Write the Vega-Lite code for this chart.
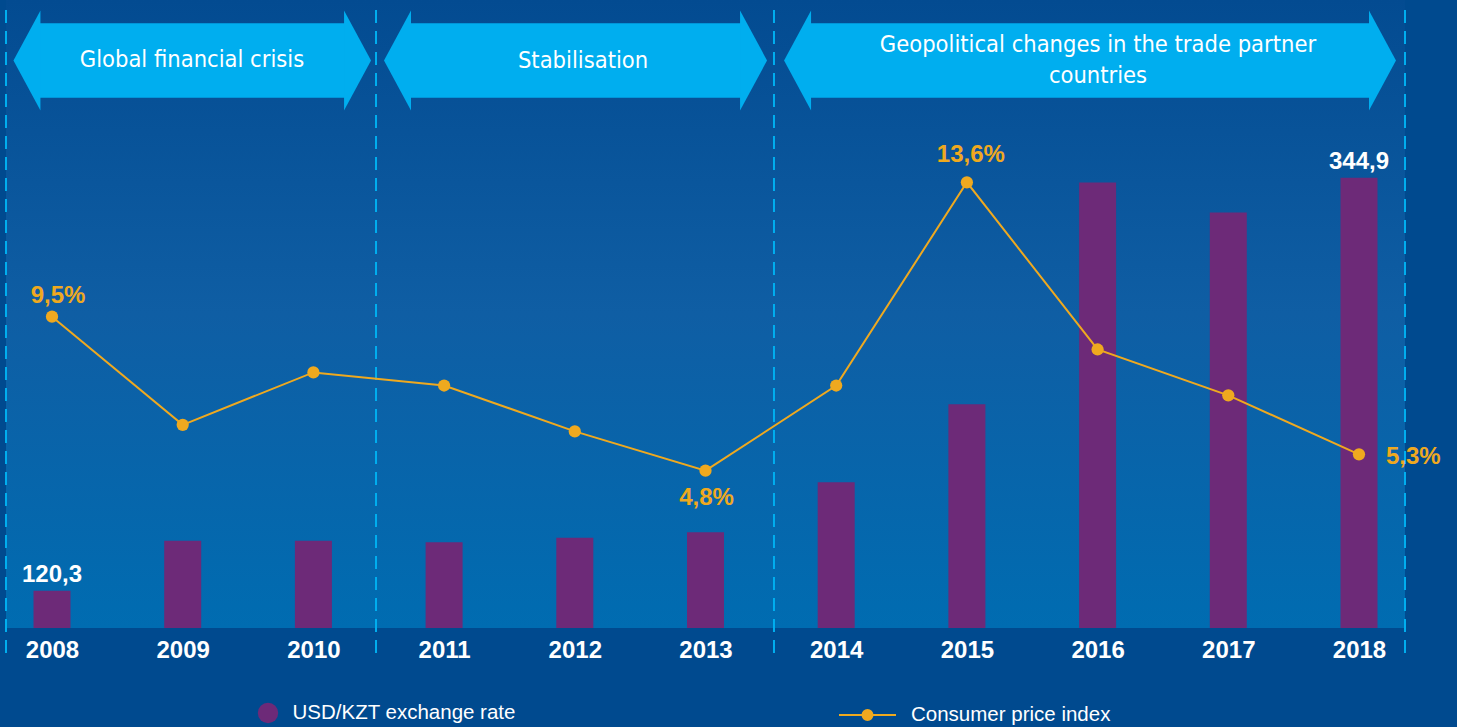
{
  "$schema": "https://vega.github.io/schema/vega-lite/v6.json",
  "width": 1399,
  "height": 628,
  "autosize": {"type": "none"},
  "padding": {"left": 6, "top": 0, "right": 52, "bottom": 99},
  "background": "#004a8f",
  "datasets": {
    "main": [
      {"year": 2008, "rate": 120.3, "cpi": 9.5},
      {"year": 2009, "rate": 147.5, "cpi": 6.2},
      {"year": 2010, "rate": 147.4, "cpi": 7.8},
      {"year": 2011, "rate": 146.6, "cpi": 7.4},
      {"year": 2012, "rate": 149.1, "cpi": 6.0},
      {"year": 2013, "rate": 152.1, "cpi": 4.8},
      {"year": 2014, "rate": 179.2, "cpi": 7.4},
      {"year": 2015, "rate": 221.7, "cpi": 13.6},
      {"year": 2016, "rate": 342.2, "cpi": 8.5},
      {"year": 2017, "rate": 326.0, "cpi": 7.1},
      {"year": 2018, "rate": 344.9, "cpi": 5.3}
    ],
    "dividers": [
      {"year": 2007.648, "top": 18.859, "bottom": -0.824},
      {"year": 2010.479, "top": 18.859, "bottom": -0.824},
      {"year": 2013.524, "top": 18.859, "bottom": -0.824},
      {"year": 2018.352, "top": 18.859, "bottom": -0.824}
    ],
    "periods": [
      {"label": "Global financial crisis", "start": 2007.904, "end": 2010.242, "mid": 2009.071, "pos": 17.333},
      {"label": "Stabilisation", "start": 2010.739, "end": 2013.272, "mid": 2012.063, "pos": 17.30},
      {"label": "Geopolitical changes in the trade partner\ncountries", "start": 2013.800, "end": 2018.084, "mid": 2016.003, "pos": 17.79}
    ]
  },
  "layer": [
    {
      "data": {"name": "main"},
      "layer": [
        {
          "mark": {"type": "bar", "size": 37},
          "encoding": {
            "x": {
              "field": "year", "type": "quantitative",
              "scale": {"domain": [2007.648, 2018.352], "nice": false, "zero": false, "padding": 0},
              "axis": {
                "values": [2008, 2009, 2010, 2011, 2012, 2013, 2014, 2015, 2016, 2017, 2018],
                "format": "d", "title": null,
                "labelFont": "Liberation Sans", "labelFontWeight": "bold", "labelFontSize": 24,
                "labelColor": "#ffffff", "ticks": false, "tickSize": 0, "domain": false, "grid": false,
                "labelPadding": 29, "labelBaseline": "alphabetic", "labelFlush": false, "labelOverlap": false
              }
            },
            "y": {
              "field": "rate", "type": "quantitative",
              "scale": {"domain": [100, 441.5], "nice": false, "zero": false},
              "axis": null
            },
            "y2": {"datum": 100},
            "color": {
              "datum": "USD/KZT exchange rate", "type": "nominal",
              "scale": {"range": ["#6d2a78"]},
              "legend": {
                "orient": "none", "legendX": 251.5, "legendY": 702.5, "title": null, "padding": 0,
                "symbolType": "circle", "symbolSize": 415, "symbolStrokeWidth": 0,
                "labelFont": "Liberation Sans", "labelFontSize": 20.5, "labelColor": "#ffffff",
                "labelOffset": 14, "labelLimit": 400
              }
            }
          }
        },
        {
          "transform": [
            {"filter": "datum.year == 2008 || datum.year == 2018"},
            {"calculate": "replace(format(datum.rate, '.1f'), '.', ',')", "as": "rateLabel"}
          ],
          "mark": {
            "type": "text", "font": "Liberation Sans", "fontWeight": "bold", "fontSize": 24,
            "color": "#ffffff", "baseline": "alphabetic", "align": "center", "dy": -9
          },
          "encoding": {
            "x": {"field": "year", "type": "quantitative", "title": null},
            "y": {"field": "rate", "type": "quantitative", "title": null},
            "text": {"field": "rateLabel", "type": "nominal"}
          }
        }
      ]
    },
    {
      "layer": [
        {
          "data": {"name": "dividers"},
          "mark": {"type": "rule", "color": "#00aeef", "strokeWidth": 2, "strokeDash": [13, 8]},
          "encoding": {
            "x": {"field": "year", "type": "quantitative", "title": null},
            "y": {"field": "top", "type": "quantitative", "scale": {"domain": [0, 19.164], "nice": false}, "axis": null},
            "y2": {"field": "bottom"}
          }
        },
        {
          "data": {"name": "periods"},
          "mark": {"type": "rect", "color": "#00aeef", "opacity": 1},
          "encoding": {
            "x": {"field": "start", "type": "quantitative", "title": null},
            "x2": {"field": "end"},
            "y": {"datum": 18.453, "type": "quantitative"},
            "y2": {"datum": 16.183}
          }
        },
        {
          "data": {"name": "periods"},
          "mark": {"type": "point", "shape": "M0.02,-1L-0.52,0L0.02,1Z", "size": 10000, "filled": true, "color": "#00aeef", "opacity": 1, "strokeWidth": 0},
          "encoding": {
            "x": {"field": "start", "type": "quantitative", "title": null},
            "y": {"datum": 17.318, "type": "quantitative"}
          }
        },
        {
          "data": {"name": "periods"},
          "mark": {"type": "point", "shape": "M-0.02,-1L0.52,0L-0.02,1Z", "size": 10000, "filled": true, "color": "#00aeef", "opacity": 1, "strokeWidth": 0},
          "encoding": {
            "x": {"field": "end", "type": "quantitative", "title": null},
            "y": {"datum": 17.318, "type": "quantitative"}
          }
        },
        {
          "data": {"name": "periods"},
          "mark": {
            "type": "text", "font": "DejaVu Sans Condensed, Liberation Sans Narrow, Roboto", "fontSize": 23.5,
            "color": "#ffffff", "baseline": "middle", "align": "center", "lineBreak": "\n", "lineHeight": 31
          },
          "encoding": {
            "x": {"field": "mid", "type": "quantitative", "title": null},
            "y": {"field": "pos", "type": "quantitative"},
            "text": {"field": "label", "type": "nominal"}
          }
        },
        {
          "data": {"name": "main"},
          "mark": {"type": "line", "color": "#efa91f", "strokeWidth": 2},
          "encoding": {
            "x": {"field": "year", "type": "quantitative", "title": null},
            "y": {"field": "cpi", "type": "quantitative"}
          }
        },
        {
          "data": {"name": "main"},
          "mark": {"type": "circle", "size": 150, "opacity": 1},
          "encoding": {
            "x": {"field": "year", "type": "quantitative", "title": null},
            "y": {"field": "cpi", "type": "quantitative"},
            "color": {
              "datum": "Consumer price index", "type": "nominal",
              "scale": {"range": ["#efa91f"]},
              "legend": {
                "orient": "none", "legendX": 832, "legendY": 685.5, "title": null, "padding": 0,
                "symbolType": "M-1,0L1,0M0.175,0A0.175,0.175,0,1,1,-0.175,0A0.175,0.175,0,1,1,0.175,0Z",
                "symbolSize": 3249, "symbolStrokeWidth": 2, "symbolStrokeColor": "#efa91f", "symbolFillColor": "#efa91f",
                "labelFont": "Liberation Sans", "labelFontSize": 20.5, "labelColor": "#ffffff",
                "labelOffset": 14, "labelLimit": 400,
                "encode": {"symbols": {"update": {"stroke": {"value": "#efa91f"}, "strokeWidth": {"value": 2}, "fill": {"value": "#efa91f"}, "opacity": {"value": 1}}}}
              }
            }
          }
        },
        {
          "data": {"name": "main"},
          "transform": [
            {"filter": "datum.year == 2008"},
            {"calculate": "replace(format(datum.cpi, '.1f'), '.', ',') + '%'", "as": "cpiLabel"}
          ],
          "mark": {"type": "text", "font": "Liberation Sans", "fontWeight": "bold", "fontSize": 24, "color": "#efa91f", "baseline": "alphabetic", "align": "center", "dx": 6, "dy": -13.5},
          "encoding": {
            "x": {"field": "year", "type": "quantitative", "title": null},
            "y": {"field": "cpi", "type": "quantitative"},
            "text": {"field": "cpiLabel", "type": "nominal"}
          }
        },
        {
          "data": {"name": "main"},
          "transform": [
            {"filter": "datum.year == 2015"},
            {"calculate": "replace(format(datum.cpi, '.1f'), '.', ',') + '%'", "as": "cpiLabel"}
          ],
          "mark": {"type": "text", "font": "Liberation Sans", "fontWeight": "bold", "fontSize": 24, "color": "#efa91f", "baseline": "alphabetic", "align": "center", "dx": 4, "dy": -20},
          "encoding": {
            "x": {"field": "year", "type": "quantitative", "title": null},
            "y": {"field": "cpi", "type": "quantitative"},
            "text": {"field": "cpiLabel", "type": "nominal"}
          }
        },
        {
          "data": {"name": "main"},
          "transform": [
            {"filter": "datum.year == 2013"},
            {"calculate": "replace(format(datum.cpi, '.1f'), '.', ',') + '%'", "as": "cpiLabel"}
          ],
          "mark": {"type": "text", "font": "Liberation Sans", "fontWeight": "bold", "fontSize": 24, "color": "#efa91f", "baseline": "alphabetic", "align": "center", "dx": 1, "dy": 34},
          "encoding": {
            "x": {"field": "year", "type": "quantitative", "title": null},
            "y": {"field": "cpi", "type": "quantitative"},
            "text": {"field": "cpiLabel", "type": "nominal"}
          }
        },
        {
          "data": {"name": "main"},
          "transform": [
            {"filter": "datum.year == 2018"},
            {"calculate": "replace(format(datum.cpi, '.1f'), '.', ',') + '%'", "as": "cpiLabel"}
          ],
          "mark": {"type": "text", "font": "Liberation Sans", "fontWeight": "bold", "fontSize": 24, "color": "#efa91f", "baseline": "alphabetic", "align": "left", "dx": 27, "dy": 10},
          "encoding": {
            "x": {"field": "year", "type": "quantitative", "title": null},
            "y": {"field": "cpi", "type": "quantitative"},
            "text": {"field": "cpiLabel", "type": "nominal"}
          }
        }
      ]
    }
  ],
  "resolve": {"scale": {"y": "independent", "color": "independent"}},
  "config": {
    "view": {
      "stroke": null,
      "fill": {
        "gradient": "linear", "x1": 0, "y1": 0, "x2": 0, "y2": 1,
        "stops": [
          {"offset": 0, "color": "#034b91"},
          {"offset": 0.5, "color": "#0f5ea4"},
          {"offset": 1, "color": "#006cb1"}
        ]
      }
    },
    "axis": {"grid": false}
  }
}
